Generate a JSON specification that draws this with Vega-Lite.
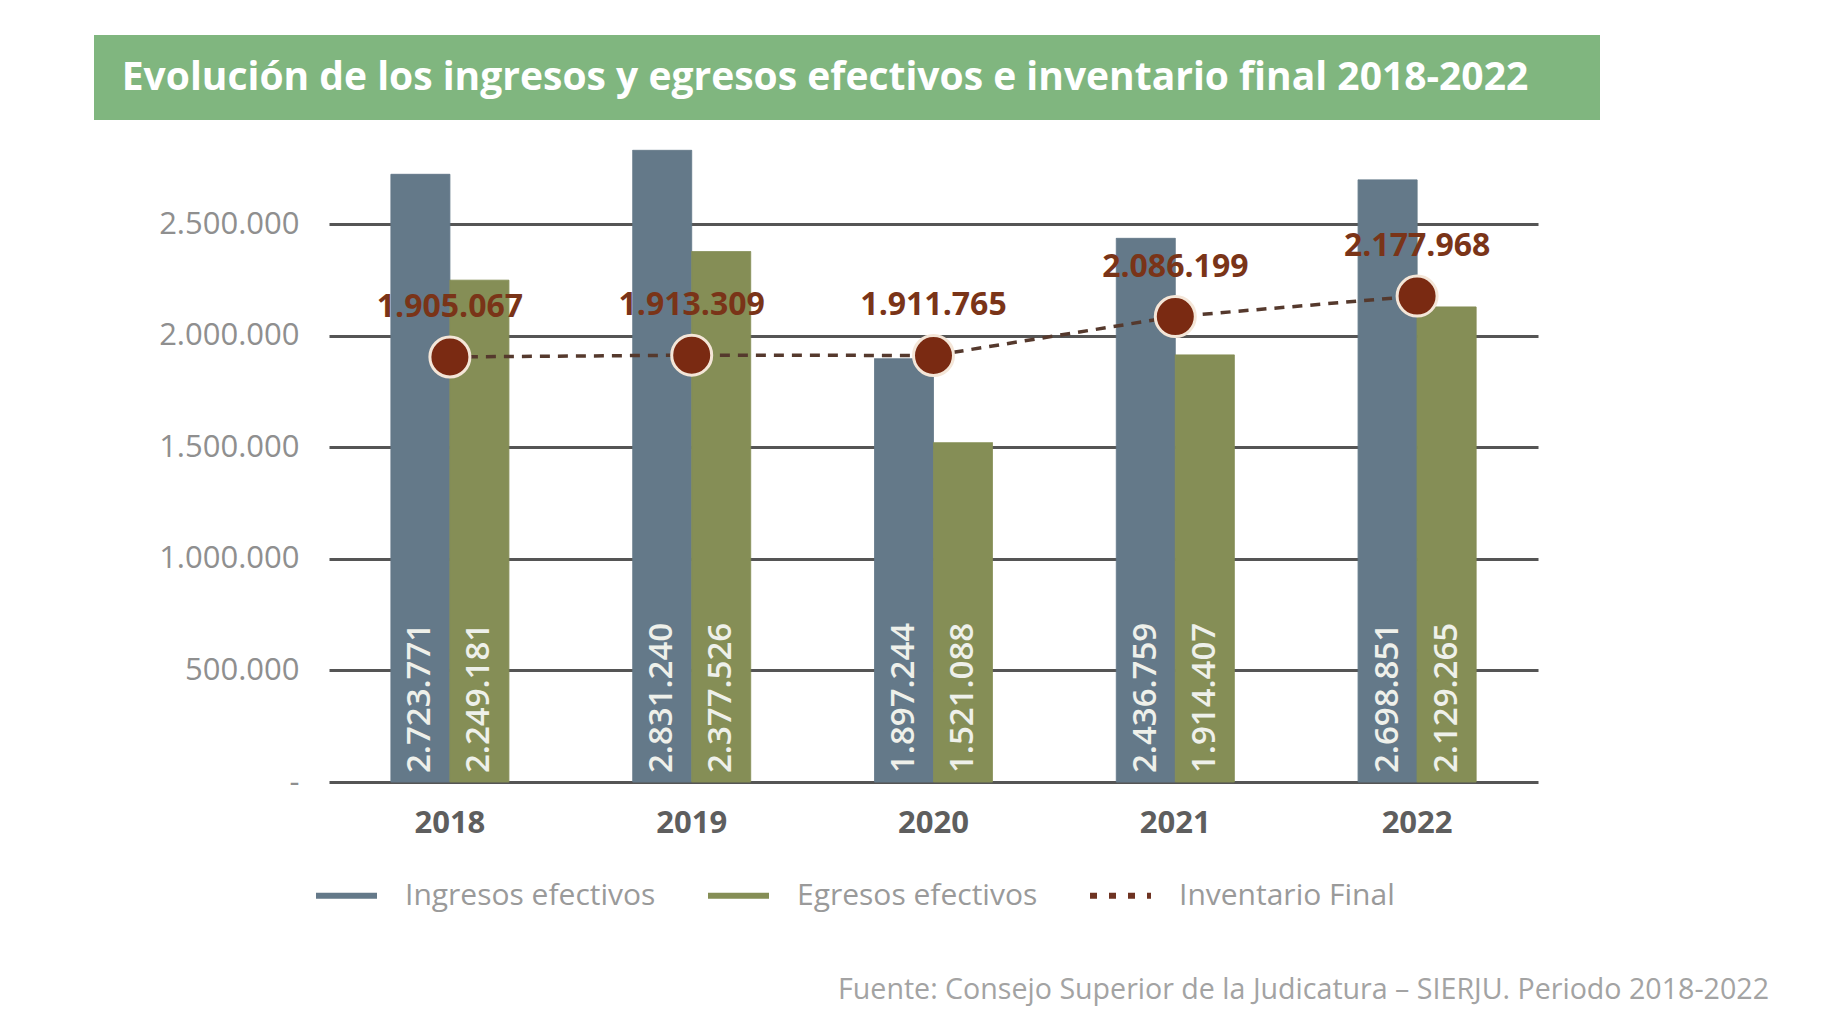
{
  "$schema": "https://vega.github.io/schema/vega-lite/v6.json",
  "padding": {"left": 94, "top": 35, "right": 20, "bottom": 30},
  "background": "white",
  "config": {
    "view": {"stroke": null},
    "font": "Open Sans",
    "locale": {"number": {"decimal": ",", "thousands": ".", "grouping": [3], "currency": ["$", ""]}}
  },
  "title": {
    "text": "Fuente: Consejo Superior de la Judicatura – SIERJU. Periodo 2018-2022",
    "orient": "bottom",
    "anchor": "end",
    "dx": 169,
    "offset": 65,
    "font": "Open Sans",
    "fontSize": 28.6,
    "fontWeight": "normal",
    "color": "#a3a3a3"
  },
  "spacing": 15,
  "vconcat": [
    {
      "width": 1506,
      "height": 85,
      "view": {"fill": "#80b67f", "stroke": null},
      "data": {"values": [{"t": "Evolución de los ingresos y egresos efectivos e inventario final 2018-2022"}]},
      "mark": {"type": "text", "font": "Open Sans", "fontSize": 39, "fontWeight": "bold", "color": "#ffffff", "align": "center", "baseline": "middle", "dx": -22},
      "encoding": {"text": {"field": "t", "type": "nominal"}}
    },
    {
      "spacing": 63,
      "hconcat": [
        {
          "width": 1,
          "height": 647,
          "data": {"values": []},
          "mark": {"type": "point", "opacity": 0},
          "encoding": {}
        },
        {
          "width": 1209,
          "height": 647,
          "data": {"values": [
            {"year": "2018", "serie": "Ingresos efectivos", "value": 2723771},
            {"year": "2018", "serie": "Egresos efectivos", "value": 2249181},
            {"year": "2018", "serie": "Inventario Final", "value": 1905067},
            {"year": "2019", "serie": "Ingresos efectivos", "value": 2831240},
            {"year": "2019", "serie": "Egresos efectivos", "value": 2377526},
            {"year": "2019", "serie": "Inventario Final", "value": 1913309},
            {"year": "2020", "serie": "Ingresos efectivos", "value": 1897244},
            {"year": "2020", "serie": "Egresos efectivos", "value": 1521088},
            {"year": "2020", "serie": "Inventario Final", "value": 1911765},
            {"year": "2021", "serie": "Ingresos efectivos", "value": 2436759},
            {"year": "2021", "serie": "Egresos efectivos", "value": 1914407},
            {"year": "2021", "serie": "Inventario Final", "value": 2086199},
            {"year": "2022", "serie": "Ingresos efectivos", "value": 2698851},
            {"year": "2022", "serie": "Egresos efectivos", "value": 2129265},
            {"year": "2022", "serie": "Inventario Final", "value": 2177968}
          ]},
          "encoding": {
            "x": {
              "field": "year", "type": "nominal",
              "scale": {"paddingInner": 0.512, "paddingOuter": 0.256},
              "axis": {"title": null, "domain": false, "ticks": false, "labelAngle": 0, "labelFont": "Open Sans", "labelFontSize": 31, "labelFontWeight": "bold", "labelColor": "#5e5e5e", "labelPadding": 26}
            },
            "y": {
              "field": "value", "type": "quantitative",
              "scale": {"domain": [0, 2900000], "nice": false},
              "axis": {"title": null, "domain": false, "ticks": false, "values": [0, 500000, 1000000, 1500000, 2000000, 2500000], "labelExpr": "datum.value == 0 ? '-' : format(datum.value, ',d')", "labelFont": "Open Sans", "labelFontSize": 31, "labelColor": "#8f8f8f", "labelPadding": 30, "grid": true, "gridColor": "#555555", "gridWidth": 3}
            }
          },
          "layer": [
            {
              "transform": [{"filter": "datum.serie != 'Inventario Final'"}],
              "mark": {"type": "bar"},
              "encoding": {
                "xOffset": {"field": "serie", "type": "nominal", "scale": {"domain": ["Ingresos efectivos", "Egresos efectivos"], "paddingInner": 0, "paddingOuter": 0}},
                "fill": {"field": "serie", "type": "nominal", "scale": {"domain": ["Ingresos efectivos", "Egresos efectivos", "Inventario Final"], "range": ["#647989", "#858e56", "#6e3322"]},
                  "legend": {"title": null, "orient": "none", "legendX": 219, "legendY": 827, "direction": "horizontal", "columns": 3, "symbolType": "stroke", "symbolSize": 3721, "symbolStrokeWidth": 6, "labelOffset": 25, "columnPadding": 40, "labelLimit": 0, "labelFont": "Open Sans", "labelFontSize": 30, "labelColor": "#9a9a9a"}},
                "stroke": {"field": "serie", "type": "nominal", "scale": {"domain": ["Ingresos efectivos", "Egresos efectivos", "Inventario Final"], "range": ["#647989", "#858e56", "#6e3322"]},
                  "legend": {"title": null, "orient": "none", "legendX": 219, "legendY": 827, "direction": "horizontal", "columns": 3, "symbolType": "stroke", "symbolSize": 3721, "symbolStrokeWidth": 6, "labelOffset": 25, "columnPadding": 40, "labelLimit": 0, "labelFont": "Open Sans", "labelFontSize": 30, "labelColor": "#9a9a9a"}},
                "strokeDash": {"field": "serie", "type": "nominal", "scale": {"domain": ["Ingresos efectivos", "Egresos efectivos", "Inventario Final"], "range": [[1, 0], [1, 0], [7, 12]]},
                  "legend": {"title": null, "orient": "none", "legendX": 219, "legendY": 827, "direction": "horizontal", "columns": 3, "symbolType": "stroke", "symbolSize": 3721, "symbolStrokeWidth": 6, "labelOffset": 25, "columnPadding": 40, "labelLimit": 0, "labelFont": "Open Sans", "labelFontSize": 30, "labelColor": "#9a9a9a"}}
              }
            },
            {
              "transform": [{"filter": "datum.serie != 'Inventario Final'"}],
              "mark": {"type": "text", "angle": 270, "align": "left", "baseline": "middle", "dx": 9, "font": "Open Sans", "fontSize": 33, "fontWeight": 600, "color": "#eef0ea"},
              "encoding": {
                "xOffset": {"field": "serie", "type": "nominal", "scale": {"domain": ["Ingresos efectivos", "Egresos efectivos"], "paddingInner": 0, "paddingOuter": 0}},
                "y": {"datum": 0},
                "text": {"field": "value", "type": "quantitative", "format": ",d"}
              }
            },
            {
              "transform": [{"filter": "datum.serie == 'Inventario Final'"}],
              "mark": {"type": "line", "color": "#55392d", "strokeWidth": 3.5, "strokeDash": [10, 8]},
              "encoding": {}
            },
            {
              "transform": [{"filter": "datum.serie == 'Inventario Final'"}],
              "mark": {"type": "point", "filled": true, "size": 1600, "fill": "#7a2a12", "stroke": "#f4e6d8", "strokeWidth": 3, "opacity": 1},
              "encoding": {}
            },
            {
              "transform": [{"filter": "datum.serie == 'Inventario Final'"}],
              "mark": {"type": "text", "dy": -40, "baseline": "alphabetic", "align": "center", "font": "Open Sans", "fontSize": 32, "fontWeight": "bold", "color": "#7a3418"},
              "encoding": {
                "text": {"field": "value", "type": "quantitative", "format": ",d"}
              }
            }
          ]
        }
      ]
    }
  ]
}
